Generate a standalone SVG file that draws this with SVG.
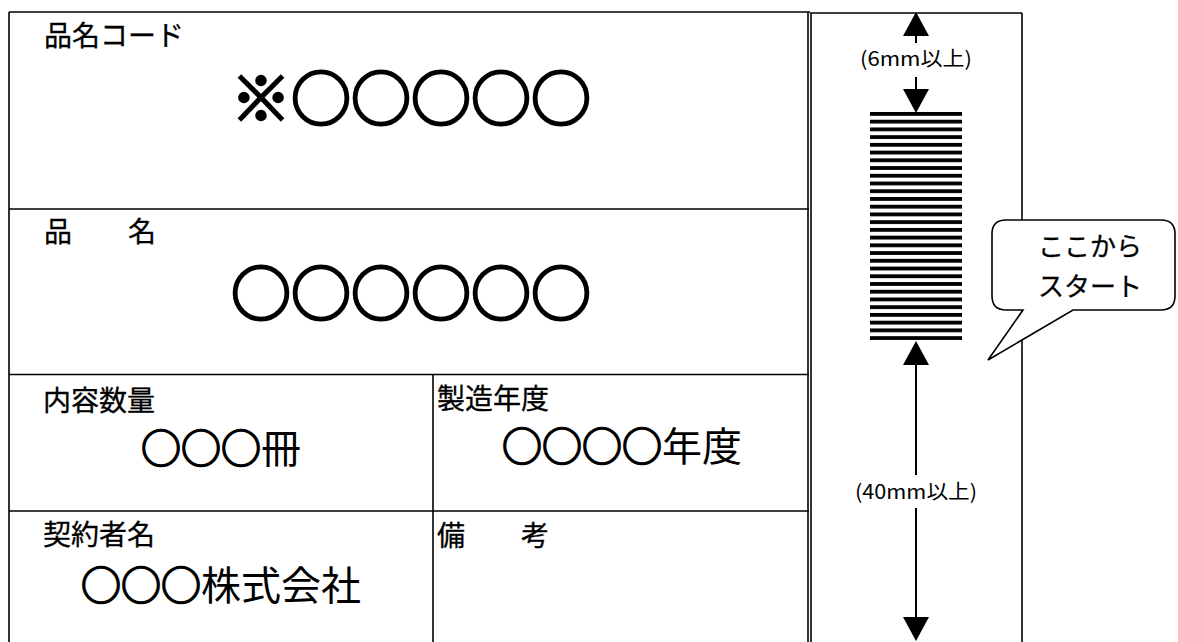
<svg xmlns="http://www.w3.org/2000/svg" width="1178" height="642" viewBox="0 0 1178 642">
<style>
.ln{stroke:#000;stroke-width:1.6;fill:none}
.lbl{font-family:"Noto Sans CJK JP","Noto Sans CJK SC",sans-serif;font-size:28px;fill:#000;stroke:#000;stroke-width:0.3}
.big{font-family:"Noto Sans CJK JP","Noto Sans CJK SC",sans-serif;font-size:60px;fill:#000;text-anchor:middle}
.mid{font-family:"Noto Sans CJK JP","Noto Sans CJK SC",sans-serif;font-size:40px;fill:#000;text-anchor:middle}
.dim{font-family:"Noto Sans CJK JP","Noto Sans CJK SC",sans-serif;font-size:20px;fill:#000;text-anchor:middle}
.call{font-family:"Noto Sans CJK JP","Noto Sans CJK SC",sans-serif;font-size:26px;fill:#000;text-anchor:middle;stroke:#000;stroke-width:0.3}
.ob{stroke:#000;stroke-width:2.6}
.om{stroke:#000;stroke-width:1.7}
.arr{stroke:#000;stroke-width:2;fill:none;marker-end:url(#head)}
</style>
<defs>
<marker id="head" viewBox="0 0 24 26" refX="22" refY="13" markerWidth="24" markerHeight="26" orient="auto" markerUnits="userSpaceOnUse">
<path d="M0,0 L24,13 L0,26 Z" fill="#000"/>
</marker>
<pattern id="bars" x="870" y="112" width="92" height="7.73" patternUnits="userSpaceOnUse">
<rect x="0" y="0" width="92" height="3.8" fill="#000"/>
</pattern>
</defs>
<rect width="1178" height="642" fill="#fff"/>

<g id="label-table">
<g id="cell-code">
<line class="ln" x1="9" y1="12" x2="810" y2="12"/>
<text class="lbl" x="44" y="46">品名コード</text>
<text class="big ob" x="411" y="121">※○○○○○</text>
</g>
<g id="cell-name">
<line class="ln" x1="9" y1="209" x2="809" y2="209"/>
<text class="lbl" x="44" y="242" xml:space="preserve">品　　名</text>
<text class="big ob" x="411" y="316">○○○○○○</text>
</g>
<g id="cell-quantity">
<line class="ln" x1="9" y1="374.5" x2="809" y2="374.5"/>
<text class="lbl" x="43" y="411">内容数量</text>
<text class="mid" x="221" y="463"><tspan class="om">○○○</tspan>冊</text>
</g>
<g id="cell-year">
<text class="lbl" x="437" y="409">製造年度</text>
<text class="mid" x="622" y="461"><tspan class="om">○○○○</tspan>年度</text>
</g>
<g id="cell-contractor">
<line class="ln" x1="9" y1="511" x2="809" y2="511"/>
<text class="lbl" x="43" y="545">契約者名</text>
<text class="mid" x="221" y="600"><tspan class="om">○○○</tspan>株式会社</text>
</g>
<g id="cell-remarks">
<text class="lbl" x="437" y="546" xml:space="preserve">備　　考</text>
</g>
<line class="ln" x1="9" y1="12" x2="9" y2="642"/>
<line class="ln" x1="808" y1="12" x2="808" y2="642"/>
<line class="ln" x1="433" y1="374.5" x2="433" y2="642"/>
</g>

<g id="barcode-area">
<line class="ln" x1="810" y1="13" x2="1022" y2="13"/>
<line class="ln" x1="811" y1="13" x2="811" y2="642"/>
<line class="ln" x1="1022" y1="13" x2="1022" y2="642"/>
<rect id="barcode" x="870" y="112" width="92" height="228" fill="url(#bars)"/>
<text class="dim" x="916" y="66" textLength="112" lengthAdjust="spacingAndGlyphs">(6mm以上)</text>
<text class="dim" x="916" y="499" textLength="122" lengthAdjust="spacingAndGlyphs">(40mm以上)</text>
</g>

<g id="connectors">
<line class="arr" x1="916" y1="43" x2="916" y2="14"/>
<line class="arr" x1="916" y1="77" x2="916" y2="111"/>
<line class="arr" x1="916" y1="475" x2="916" y2="343"/>
<line class="arr" x1="916" y1="508" x2="916" y2="639"/>
</g>

<g id="callout">
<path d="M1006,220 H1161 Q1175,220 1175,234 V296 Q1175,310 1161,310 H1073 L988,360 L1023,310 H1006 Q992,310 992,296 V234 Q992,220 1006,220 Z" fill="#fff" stroke="#000" stroke-width="1.6"/>
<text class="call" x="1090" y="256">ここから</text>
<text class="call" x="1090" y="296">スタート</text>
</g>
</svg>
